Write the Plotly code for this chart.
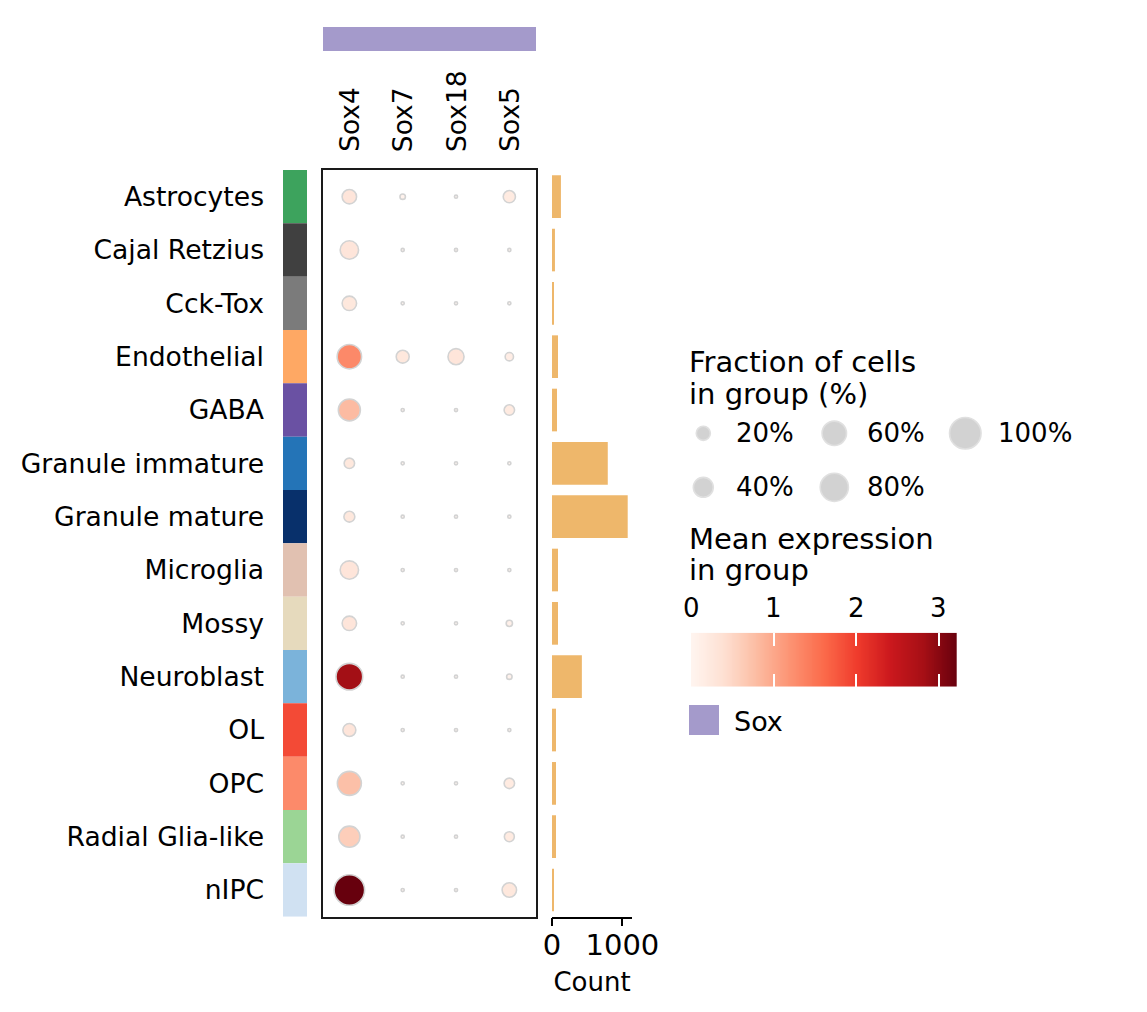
import numpy as np
import plotly.graph_objects as go
import plotly.colors as pc

W, H = 1147, 1012
FONT = "DejaVu Sans"
# 页面 body 的 8px 边距补偿
OFF = 8

# ---- data ----
cell_types = ["Astrocytes", "Cajal Retzius", "Cck-Tox", "Endothelial", "GABA",
              "Granule immature", "Granule mature", "Microglia", "Mossy", "Neuroblast",
              "OL", "OPC", "Radial Glia-like", "nIPC"]
cell_colors = ["#3da35d", "#404040", "#7b7b7b", "#fea864", "#6a51a3",
               "#2474b7", "#08306b", "#e1c1b1", "#e6dabd", "#7bb3da",
               "#f34a36", "#fc8a6a", "#9bd595", "#d0e1f2"]

genes = ["Sox4", "Sox7", "Sox18", "Sox5"]
gene_group = "Sox"
gene_group_color = "#a49acb"

# fraction of cells in group expressing the gene (%)
frac_sox4 = [21, 34, 21, 60, 49, 11, 12, 34, 21, 72, 17, 58, 45, 94]
frac_sox7 = [3, 1, 1, 17, 1, 1, 1, 1, 1, 1, 1, 1, 1, 1]
frac_sox18 = [1, 1, 1, 26, 1, 1, 1, 1, 1, 1, 1, 1, 1, 1]
frac_sox5 = [15, 1, 1, 7, 11, 1, 1, 1, 4, 3, 1, 11, 10, 21]

# mean expression in group
expr_sox4 = [0.3, 0.3, 0.25, 1.3, 0.8, 0.25, 0.25, 0.3, 0.3, 2.83, 0.3, 0.75, 0.6, 3.22]
expr_sox7 = [0.05, 0.02, 0.02, 0.25, 0.02, 0.02, 0.02, 0.02, 0.02, 0.02, 0.02, 0.02, 0.02, 0.02]
expr_sox18 = [0.02, 0.02, 0.02, 0.3, 0.02, 0.02, 0.02, 0.02, 0.02, 0.02, 0.02, 0.02, 0.02, 0.02]
expr_sox5 = [0.2, 0.02, 0.02, 0.15, 0.2, 0.02, 0.02, 0.02, 0.1, 0.05, 0.02, 0.2, 0.2, 0.25]

cell_counts = [127, 42, 28, 85, 71, 792, 1075, 85, 85, 424, 57, 57, 57, 21]

size_legend_pct = [20, 40, 60, 80, 100]
cbar_ticks = [0, 1, 2, 3]
expr_max = 3.22
count_max = 1136

frac = {"Sox4": frac_sox4, "Sox7": frac_sox7, "Sox18": frac_sox18, "Sox5": frac_sox5}
expr = {"Sox4": expr_sox4, "Sox7": expr_sox7, "Sox18": expr_sox18, "Sox5": expr_sox5}

reds = pc.make_colorscale(pc.sequential.Reds)


def px_x(v):
    return (v - OFF) / W


def px_y(v):
    return 1 - (v - OFF) / H


def dot_size(pct):
    # 点面积与比例成正比
    return 31.5 * np.sqrt(np.asarray(pct, dtype=float) / 100)


fig = go.Figure()

# 左侧分组颜色条
fig.add_trace(go.Bar(
    x=[1] * len(cell_types), y=cell_types, orientation='h',
    marker=dict(color=cell_colors, line=dict(width=0)),
    width=1, xaxis='x', yaxis='y', hoverinfo='skip'
))

# 点图
xs, ys, ss, cs = [], [], [], []
for g in genes:
    xs += [g] * len(cell_types)
    ys += cell_types
    ss += [float(s) for s in dot_size(frac[g])]
    cs += expr[g]
fig.add_trace(go.Scatter(
    x=xs, y=ys, mode='markers', xaxis='x2', yaxis='y2',
    marker=dict(size=ss, color=cs, colorscale=reds, cmin=0, cmax=expr_max,
                line=dict(color='#d3d3d3', width=1.6), opacity=1),
    hovertemplate='%{y} / %{x}<extra></extra>'
))

# 右侧计数条形图
fig.add_trace(go.Bar(
    x=cell_counts, y=cell_types, orientation='h', width=0.8,
    marker=dict(color='#eeb76b', line=dict(width=0)),
    xaxis='x3', yaxis='y3'
))

# 颜色条 (渐变)
grid = np.linspace(0, expr_max, 300)
fig.add_trace(go.Heatmap(
    x=grid, y=[0], z=[grid], colorscale=reds, zmin=0, zmax=expr_max,
    showscale=False, xaxis='x5', yaxis='y5', hoverinfo='skip'
))

# 点大小图例
col_x0, col_dx = 703.3 - OFF, 131
row_y0, row_dy = 433.3 - OFF, 54
leg_x = [col_x0 + (i // 2) * col_dx for i in range(len(size_legend_pct))]
leg_y = [row_y0 + (i % 2) * row_dy for i in range(len(size_legend_pct))]
fig.add_trace(go.Scatter(
    x=leg_x, y=leg_y, mode='markers', xaxis='x4', yaxis='y4',
    marker=dict(size=[float(s) for s in dot_size(size_legend_pct)], color='#c0c0c0',
                line=dict(color='#d3d3d3', width=1.6)),
    hoverinfo='skip'
))

annotations = []
for i, p in enumerate(size_legend_pct):
    annotations.append(dict(
        x=px_x(leg_x[i] + OFF + 30.7), y=px_y(leg_y[i] + OFF), xref='paper', yref='paper',
        text=f'{p}%', showarrow=False, xanchor='left', yanchor='middle',
        font=dict(size=26, family=FONT, color='black')
    ))

title_lines = [("Fraction of cells", 362), ("in group (%)", 394),
               ("Mean expression", 538.5), ("in group", 570)]
for txt, yc in title_lines:
    annotations.append(dict(
        x=px_x(687), y=px_y(yc), xref='paper', yref='paper', text=txt,
        showarrow=False, xanchor='left', yanchor='middle',
        font=dict(size=29, family=FONT, color='black')
    ))

annotations.append(dict(
    x=px_x(732), y=px_y(721), xref='paper', yref='paper', text=gene_group,
    showarrow=False, xanchor='left', yanchor='middle',
    font=dict(size=27, family=FONT, color='black')
))

# 基因名 (竖排)
for g in genes:
    annotations.append(dict(
        x=g, y=px_y(154), xref='x2', yref='paper', text=g, textangle=-90,
        showarrow=False, xanchor='center', yanchor='bottom',
        font=dict(size=26.5, family=FONT, color='black')
    ))

# 颜色条刻度标签
for t in cbar_ticks:
    annotations.append(dict(
        x=t, y=px_y(607.5), xref='x5', yref='paper', text=str(t),
        showarrow=False, xanchor='center', yanchor='middle',
        font=dict(size=26, family=FONT, color='black')
    ))

shapes = [
    # 顶部基因组颜色块
    dict(type='rect', xref='paper', yref='paper',
         x0=px_x(323), x1=px_x(536), y0=px_y(51), y1=px_y(27),
         fillcolor=gene_group_color, line=dict(width=0)),
    # 图例色块
    dict(type='rect', xref='paper', yref='paper',
         x0=px_x(689), x1=px_x(719), y0=px_y(735), y1=px_y(705),
         fillcolor=gene_group_color, line=dict(width=0)),
]

y_dom = [px_y(916.7), px_y(170)]
y_rng = [len(cell_types) - 0.5, -0.5]
cat_y = dict(type='category', categoryorder='array', categoryarray=cell_types,
             range=y_rng, domain=y_dom, showgrid=False, zeroline=False, automargin=False)

fig.update_layout(
    width=W, height=H, autosize=False,
    margin=dict(l=0, r=0, t=0, b=0, pad=0, autoexpand=False),
    paper_bgcolor='white', plot_bgcolor='rgba(0,0,0,0)',
    showlegend=False,
    font=dict(family=FONT, color='black'),
    xaxis=dict(domain=[px_x(283), px_x(307)], range=[0, 1], visible=False, anchor='y',
               automargin=False),
    yaxis=dict(**cat_y, anchor='x', ticks='', ticklabelstandoff=18,
               tickfont=dict(size=26.6, family=FONT, color='black')),
    xaxis2=dict(domain=[px_x(322.7), px_x(536)], type='category', categoryorder='array',
                categoryarray=genes, range=[-0.5, len(genes) - 0.5], side='top',
                anchor='y2', showline=True, mirror=True, linecolor='#1a1a1a', linewidth=1.8,
                showgrid=False, zeroline=False, ticks='', showticklabels=False,
                automargin=False),
    yaxis2=dict(**cat_y, anchor='x2', showline=True, mirror=True, linecolor='#1a1a1a',
                linewidth=1.8, showticklabels=False, ticks=''),
    xaxis3=dict(domain=[px_x(552), px_x(632)], range=[0, count_max], anchor='y3',
                showline=True, linecolor='black', linewidth=1.5, showgrid=False,
                zeroline=False, ticks='outside', ticklen=8, tickwidth=1.5,
                tickcolor='black', tickvals=[0, 1000], automargin=False,
                ticklabelstandoff=-6,
                tickfont=dict(size=29, family=FONT, color='black'),
                title=dict(text='Count', standoff=12,
                           font=dict(size=26, family=FONT, color='black'))),
    yaxis3=dict(**cat_y, anchor='x3', visible=False),
    xaxis4=dict(domain=[0, 1], range=[0, W], visible=False, anchor='y4', automargin=False),
    yaxis4=dict(domain=[0, 1], range=[H, 0], visible=False, anchor='x4', automargin=False),
    xaxis5=dict(domain=[px_x(691), px_x(956.7)], range=[0, expr_max], anchor='y5',
                side='top', tickvals=cbar_ticks, ticks='inside', ticklen=13,
                tickwidth=2, tickcolor='white', mirror='ticks', showline=False,
                showgrid=False, zeroline=False, showticklabels=False, automargin=False),
    yaxis5=dict(domain=[px_y(686.7), px_y(632.7)], range=[-0.5, 0.5], visible=False,
                anchor='x5', automargin=False),
    annotations=annotations,
    shapes=shapes,
)

fig.write_html("out.html")
